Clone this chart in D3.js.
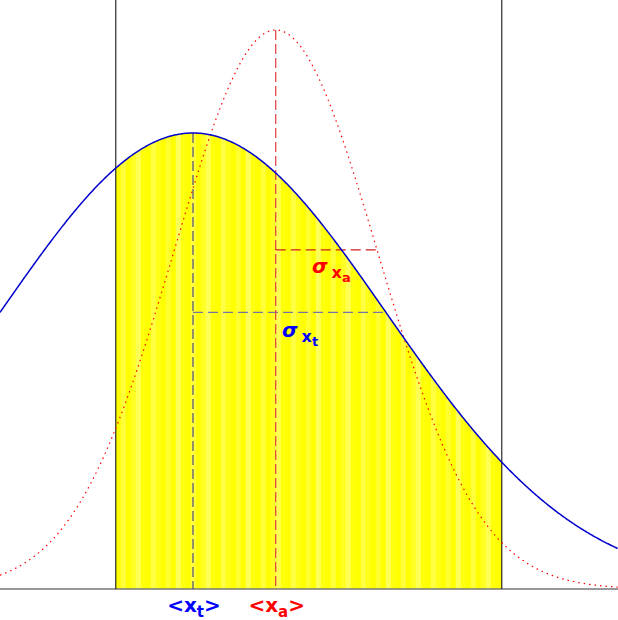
<!DOCTYPE html>
<html>
<head>
<meta charset="utf-8">
<script src="https://cdn.jsdelivr.net/npm/d3@7"></script>
<style>
  body { margin: 0; background: #fff; }
  svg { display: block; }
  text { font-family: "DejaVu Sans", sans-serif; font-weight: bold; }
</style>
</head>
<body>
<div id="chart"></div>
<script>
// truncated normal: parent N(0,1) cut at [-0.4, 1.6]
const xDomain = [-1, 2.2];
const cutBounds = [-0.4, 1.6];
const curveNames = ['t', 'a'];
const curveMeans = [0, 0.4286];
const curveSds = [1, 0.525];
const curvePeaks = [1, 1.226];
const curveColors = ['#0000cc', '#ff0000'];
const labelColors = ['#0000ff', '#ff0000'];
// shades for the striped fill, repeated across the band
const stripeShades = ['#ffff00', '#ffff3c', '#ffff00', '#ffff22', '#ffff55', '#ffff0a',
  '#ffff00', '#ffff44', '#ffff18', '#ffff00', '#ffff30', '#ffff00', '#ffff5a', '#ffff10'];

const width = 618, height = 620;
const baseY = 589;

const svg = d3.select('#chart')
  .append('svg')
  .attr('width', width)
  .attr('height', height);

const x = d3.scaleLinear().domain(xDomain).range([0, 617.6]);
const y = d3.scaleLinear().domain([0, 1]).range([baseY, 133]);

const gauss = (v, i) => curvePeaks[i] * Math.exp(-0.5 * Math.pow((v - curveMeans[i]) / curveSds[i], 2));

const xsAll = d3.range(xDomain[0], xDomain[1] + 0.005, 0.005);
const xsCut = d3.range(cutBounds[0], cutBounds[1] + 0.0001, 0.005);

// clip the stripes to the area under the blue curve
const area = d3.area()
  .x(d => x(d))
  .y0(baseY)
  .y1(d => y(gauss(d, 0)));

svg.append('clipPath')
  .attr('id', 'under')
  .append('path')
  .attr('d', area(xsCut));

const stripeW = 5;
const stripeStarts = d3.range(x(cutBounds[0]), x(cutBounds[1]), stripeW);
svg.append('g')
  .attr('clip-path', 'url(#under)')
  .selectAll('rect')
  .data(stripeStarts)
  .enter()
  .append('rect')
  .attr('x', d => d)
  .attr('y', 0)
  .attr('width', stripeW + 0.5)
  .attr('height', baseY)
  .attr('fill', (d, i) => stripeShades[i % stripeShades.length]);

// baseline
svg.append('line')
  .attr('x1', 0).attr('x2', width)
  .attr('y1', baseY).attr('y2', baseY)
  .attr('stroke', '#777')
  .attr('stroke-width', 1.6);

// truncation bounds
svg.selectAll('.bound')
  .data(cutBounds)
  .enter()
  .append('line')
  .attr('x1', d => x(d)).attr('x2', d => x(d))
  .attr('y1', 0).attr('y2', baseY)
  .attr('stroke', '#000')
  .attr('stroke-width', 1);

// mean and sigma guides
const guideColors = ['#4a4a80', '#e03c3c'];
curveMeans.forEach((m, i) => {
  svg.append('line')
    .attr('x1', x(m)).attr('x2', x(m))
    .attr('y1', y(curvePeaks[i])).attr('y2', baseY)
    .attr('stroke', guideColors[i])
    .attr('stroke-width', 1.2)
    .attr('stroke-dasharray', '10,4');
  const yS = y(gauss(m + curveSds[i], i));
  svg.append('line')
    .attr('x1', x(m)).attr('x2', x(m + curveSds[i]))
    .attr('y1', yS).attr('y2', yS)
    .attr('stroke', i === 0 ? '#7676a6' : '#cc2222')
    .attr('stroke-width', 1.3)
    .attr('stroke-dasharray', '10,5');
});

// curves
const line = i => d3.line()
  .x(d => x(d))
  .y(d => y(gauss(d, i)));

svg.append('path')
  .attr('d', line(1)(xsAll))
  .attr('fill', 'none')
  .attr('stroke', curveColors[1])
  .attr('stroke-width', 1.2)
  .attr('stroke-dasharray', '1.5,4');

svg.append('path')
  .attr('d', line(0)(xsAll))
  .attr('fill', 'none')
  .attr('stroke', curveColors[0])
  .attr('stroke-width', 1.5);

// mean labels under the axis
curveMeans.forEach((m, i) => {
  const t = svg.append('text')
    .attr('x', x(m) + 1)
    .attr('y', 612)
    .attr('text-anchor', 'middle')
    .attr('font-size', 20)
    .attr('fill', labelColors[i]);
  t.append('tspan').text('<x');
  t.append('tspan').attr('font-size', 15).attr('dy', 5).text(curveNames[i]);
  t.append('tspan').attr('dy', -5).text('>');
});

// sigma labels
const sigmaPos = [[282, 337], [312, 273]];
curveMeans.forEach((m, i) => {
  const t = svg.append('text')
    .attr('x', sigmaPos[i][0])
    .attr('y', sigmaPos[i][1])
    .attr('font-size', 20)
    .attr('fill', labelColors[i]);
  t.append('tspan').attr('font-style', 'italic').text('σ');
  t.append('tspan').attr('font-size', 16).attr('dx', 4).attr('dy', 5).text('x');
  t.append('tspan').attr('font-size', 13).attr('dy', 4).text(curveNames[i]);
});
</script>
</body>
</html>
